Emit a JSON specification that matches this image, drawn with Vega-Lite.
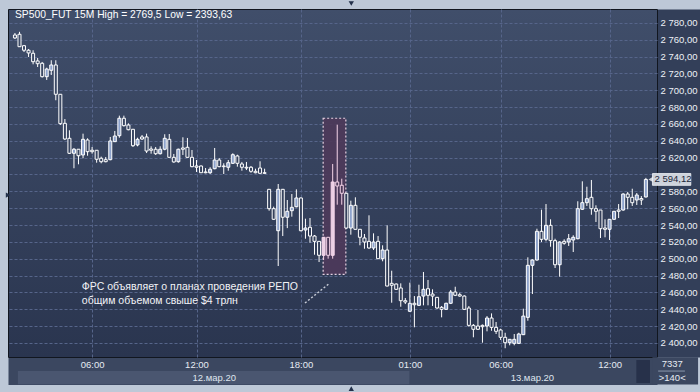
{
"$schema": "https://vega.github.io/schema/vega-lite/v6.json",
"width": 649, "height": 348,
"autosize": {"type": "none"},
"padding": {"left": 8, "top": 9, "right": 43, "bottom": 35},
"background": "#bdc8d7",
"config": {
  "view": {"fill": {"gradient": "linear", "x1": 0, "y1": 0, "x2": 0, "y2": 1, "stops": [{"offset": 0, "color": "#404e6a"}, {"offset": 1, "color": "#2a354f"}]}, "stroke": "#11161f", "strokeWidth": 1},
  "font": "Liberation Sans",
  "text": {"font": "Liberation Sans"}
},
"data": {"values": [
{"i":0,"o":2765.7,"h":2768.1,"l":2761.0,"c":2762.2},
{"i":1,"o":2766.6,"h":2769.5,"l":2751.5,"c":2751.8},
{"i":2,"o":2753.0,"h":2753.9,"l":2745.5,"c":2747.6},
{"i":3,"o":2747.6,"h":2749.1,"l":2739.6,"c":2744.4},
{"i":4,"o":2744.0,"h":2747.6,"l":2730.9,"c":2734.0},
{"i":5,"o":2734.9,"h":2738.4,"l":2727.7,"c":2731.6},
{"i":6,"o":2732.1,"h":2733.7,"l":2715.2,"c":2716.2},
{"i":7,"o":2716.2,"h":2726.9,"l":2712.3,"c":2725.3},
{"i":8,"o":2723.8,"h":2735.7,"l":2718.2,"c":2730.1},
{"i":9,"o":2730.1,"h":2735.7,"l":2688.2,"c":2695.3},
{"i":10,"o":2695.3,"h":2695.6,"l":2658.8,"c":2660.4},
{"i":11,"o":2660.8,"h":2665.9,"l":2641.0,"c":2642.2},
{"i":12,"o":2643.0,"h":2652.5,"l":2624.4,"c":2625.2},
{"i":13,"o":2625.2,"h":2631.5,"l":2607.4,"c":2630.0},
{"i":14,"o":2630.0,"h":2630.3,"l":2612.1,"c":2622.3},
{"i":15,"o":2623.2,"h":2648.5,"l":2619.3,"c":2641.8},
{"i":16,"o":2641.0,"h":2643.0,"l":2622.3,"c":2627.1},
{"i":17,"o":2628.8,"h":2632.7,"l":2624.7,"c":2627.1},
{"i":18,"o":2628.8,"h":2629.1,"l":2614.0,"c":2618.1},
{"i":19,"o":2619.3,"h":2621.2,"l":2613.3,"c":2615.2},
{"i":20,"o":2617.6,"h":2620.8,"l":2614.5,"c":2615.2},
{"i":21,"o":2617.6,"h":2644.6,"l":2616.9,"c":2639.8},
{"i":22,"o":2639.0,"h":2651.7,"l":2638.6,"c":2645.7},
{"i":23,"o":2646.1,"h":2669.9,"l":2643.7,"c":2666.8},
{"i":24,"o":2666.8,"h":2669.9,"l":2657.0,"c":2658.0},
{"i":25,"o":2658.8,"h":2660.8,"l":2652.5,"c":2653.2},
{"i":26,"o":2653.7,"h":2654.1,"l":2632.7,"c":2634.2},
{"i":27,"o":2635.1,"h":2643.7,"l":2633.5,"c":2641.8},
{"i":28,"o":2644.6,"h":2646.9,"l":2641.0,"c":2642.2},
{"i":29,"o":2644.6,"h":2648.5,"l":2625.5,"c":2627.9},
{"i":30,"o":2630.3,"h":2633.5,"l":2624.7,"c":2628.8},
{"i":31,"o":2630.0,"h":2632.7,"l":2623.2,"c":2624.7},
{"i":32,"o":2624.7,"h":2633.5,"l":2623.8,"c":2630.0},
{"i":33,"o":2630.0,"h":2647.8,"l":2628.8,"c":2643.0},
{"i":34,"o":2641.8,"h":2648.1,"l":2620.2,"c":2620.4},
{"i":35,"o":2620.4,"h":2624.4,"l":2614.0,"c":2614.9},
{"i":36,"o":2615.2,"h":2630.7,"l":2614.0,"c":2630.0},
{"i":37,"o":2631.5,"h":2644.2,"l":2623.2,"c":2630.0},
{"i":38,"o":2632.3,"h":2643.4,"l":2620.2,"c":2620.4},
{"i":39,"o":2620.4,"h":2629.1,"l":2608.6,"c":2609.3},
{"i":40,"o":2610.1,"h":2617.2,"l":2603.0,"c":2608.6},
{"i":41,"o":2610.1,"h":2610.7,"l":2601.8,"c":2602.1},
{"i":42,"o":2603.0,"h":2607.7,"l":2601.4,"c":2602.1},
{"i":43,"o":2602.1,"h":2608.6,"l":2600.6,"c":2606.2},
{"i":44,"o":2606.9,"h":2631.5,"l":2606.2,"c":2617.2},
{"i":45,"o":2617.2,"h":2619.6,"l":2608.6,"c":2609.3},
{"i":46,"o":2610.1,"h":2613.3,"l":2600.6,"c":2609.3},
{"i":47,"o":2608.6,"h":2617.2,"l":2604.5,"c":2614.0},
{"i":48,"o":2613.3,"h":2625.2,"l":2612.5,"c":2623.5},
{"i":49,"o":2622.0,"h":2623.5,"l":2609.3,"c":2613.3},
{"i":50,"o":2612.5,"h":2614.9,"l":2604.5,"c":2608.6},
{"i":51,"o":2608.6,"h":2614.9,"l":2605.3,"c":2607.7},
{"i":52,"o":2608.6,"h":2610.1,"l":2602.1,"c":2603.8},
{"i":53,"o":2603.8,"h":2606.9,"l":2601.4,"c":2602.1},
{"i":54,"o":2607.7,"h":2615.7,"l":2601.2,"c":2601.4},
{"i":55,"o":2602.1,"h":2606.9,"l":2601.2,"c":2601.4},
{"i":56,"o":2582.4,"h":2582.4,"l":2557.0,"c":2559.4},
{"i":57,"o":2559.4,"h":2561.8,"l":2546.0,"c":2546.8},
{"i":58,"o":2533.2,"h":2588.7,"l":2491.3,"c":2582.4},
{"i":59,"o":2582.4,"h":2582.8,"l":2526.9,"c":2549.2},
{"i":60,"o":2549.2,"h":2569.7,"l":2536.3,"c":2556.3},
{"i":61,"o":2557.0,"h":2576.8,"l":2549.9,"c":2561.0},
{"i":62,"o":2561.7,"h":2582.4,"l":2561.0,"c":2572.1},
{"i":63,"o":2572.1,"h":2572.7,"l":2532.5,"c":2533.2},
{"i":64,"o":2534.1,"h":2547.5,"l":2523.7,"c":2536.4},
{"i":65,"o":2537.3,"h":2548.3,"l":2519.0,"c":2526.9},
{"i":66,"o":2526.9,"h":2528.1,"l":2504.7,"c":2520.6},
{"i":67,"o":2520.6,"h":2521.0,"l":2496.0,"c":2504.0},
{"i":68,"o":2504.0,"h":2525.7,"l":2498.4,"c":2525.4},
{"i":69,"o":2525.4,"h":2525.7,"l":2500.0,"c":2504.0},
{"i":70,"o":2504.0,"h":2612.5,"l":2500.0,"c":2591.1},
{"i":71,"o":2591.1,"h":2659.2,"l":2564.1,"c":2586.3},
{"i":72,"o":2587.2,"h":2595.0,"l":2564.1,"c":2577.7},
{"i":73,"o":2577.7,"h":2578.0,"l":2535.6,"c":2536.4},
{"i":74,"o":2536.4,"h":2568.9,"l":2528.5,"c":2563.4},
{"i":75,"o":2563.4,"h":2572.9,"l":2534.7,"c":2534.9},
{"i":76,"o":2534.9,"h":2535.3,"l":2515.9,"c":2525.4},
{"i":77,"o":2524.6,"h":2529.3,"l":2511.8,"c":2519.8},
{"i":78,"o":2520.6,"h":2551.5,"l":2511.8,"c":2512.7},
{"i":79,"o":2512.7,"h":2530.1,"l":2510.3,"c":2519.8},
{"i":80,"o":2520.6,"h":2526.9,"l":2499.6,"c":2500.0},
{"i":81,"o":2500.0,"h":2515.9,"l":2496.9,"c":2510.3},
{"i":82,"o":2510.3,"h":2539.6,"l":2467.2,"c":2467.5},
{"i":83,"o":2470.7,"h":2485.7,"l":2447.7,"c":2468.4},
{"i":84,"o":2469.9,"h":2470.5,"l":2462.8,"c":2463.6},
{"i":85,"o":2465.2,"h":2470.7,"l":2442.9,"c":2450.1},
{"i":86,"o":2450.1,"h":2453.3,"l":2446.1,"c":2448.5},
{"i":87,"o":2437.5,"h":2471.5,"l":2436.6,"c":2447.0},
{"i":88,"o":2447.0,"h":2455.6,"l":2418.5,"c":2445.3},
{"i":89,"o":2444.6,"h":2469.1,"l":2443.8,"c":2454.8},
{"i":90,"o":2455.6,"h":2484.2,"l":2444.6,"c":2463.6},
{"i":91,"o":2464.3,"h":2474.7,"l":2444.6,"c":2456.5},
{"i":92,"o":2458.0,"h":2463.6,"l":2443.8,"c":2455.6},
{"i":93,"o":2454.1,"h":2454.5,"l":2440.6,"c":2441.4},
{"i":94,"o":2442.2,"h":2443.8,"l":2430.3,"c":2439.8},
{"i":95,"o":2439.8,"h":2447.7,"l":2439.4,"c":2447.0},
{"i":96,"o":2447.0,"h":2462.8,"l":2446.1,"c":2460.4},
{"i":97,"o":2460.4,"h":2466.7,"l":2455.6,"c":2456.5},
{"i":98,"o":2457.2,"h":2459.6,"l":2454.8,"c":2455.6},
{"i":99,"o":2455.6,"h":2456.5,"l":2439.0,"c":2439.8},
{"i":100,"o":2441.4,"h":2443.8,"l":2419.2,"c":2420.8},
{"i":101,"o":2420.8,"h":2422.4,"l":2406.6,"c":2416.1},
{"i":102,"o":2420.0,"h":2439.0,"l":2415.3,"c":2416.1},
{"i":103,"o":2420.8,"h":2421.8,"l":2400.2,"c":2419.2},
{"i":104,"o":2420.0,"h":2431.8,"l":2413.7,"c":2429.5},
{"i":105,"o":2429.5,"h":2435.0,"l":2414.4,"c":2418.4},
{"i":106,"o":2418.4,"h":2424.8,"l":2410.5,"c":2413.7},
{"i":107,"o":2415.3,"h":2416.8,"l":2403.4,"c":2406.6},
{"i":108,"o":2406.6,"h":2412.0,"l":2393.6,"c":2400.2},
{"i":109,"o":2400.2,"h":2404.6,"l":2397.1,"c":2404.2},
{"i":110,"o":2399.4,"h":2410.5,"l":2397.1,"c":2404.2},
{"i":111,"o":2399.4,"h":2412.0,"l":2398.6,"c":2410.5},
{"i":112,"o":2409.7,"h":2440.6,"l":2409.3,"c":2431.8},
{"i":113,"o":2430.3,"h":2501.6,"l":2426.3,"c":2492.1},
{"i":114,"o":2492.1,"h":2499.3,"l":2458.0,"c":2498.4},
{"i":115,"o":2498.4,"h":2535.6,"l":2497.6,"c":2532.5},
{"i":116,"o":2532.5,"h":2558.2,"l":2519.8,"c":2523.0},
{"i":117,"o":2523.0,"h":2564.9,"l":2520.6,"c":2539.6},
{"i":118,"o":2539.6,"h":2546.8,"l":2514.2,"c":2521.4},
{"i":119,"o":2521.4,"h":2523.7,"l":2488.9,"c":2492.8},
{"i":120,"o":2492.8,"h":2520.6,"l":2478.6,"c":2519.8},
{"i":121,"o":2520.6,"h":2523.0,"l":2516.6,"c":2518.3},
{"i":122,"o":2519.8,"h":2529.3,"l":2515.1,"c":2523.7},
{"i":123,"o":2522.2,"h":2527.8,"l":2507.9,"c":2525.4},
{"i":124,"o":2523.7,"h":2568.2,"l":2523.0,"c":2559.4},
{"i":125,"o":2558.7,"h":2591.9,"l":2557.8,"c":2566.5},
{"i":126,"o":2566.5,"h":2585.5,"l":2562.6,"c":2571.3},
{"i":127,"o":2572.9,"h":2593.5,"l":2552.2,"c":2559.4},
{"i":128,"o":2559.4,"h":2563.4,"l":2543.6,"c":2556.3},
{"i":129,"o":2557.8,"h":2557.8,"l":2524.6,"c":2535.6},
{"i":130,"o":2536.4,"h":2546.8,"l":2525.4,"c":2534.9},
{"i":131,"o":2534.9,"h":2547.1,"l":2522.2,"c":2546.8},
{"i":132,"o":2546.8,"h":2556.6,"l":2546.0,"c":2556.3},
{"i":133,"o":2557.8,"h":2564.9,"l":2548.3,"c":2556.3},
{"i":134,"o":2557.8,"h":2577.7,"l":2557.0,"c":2576.8},
{"i":135,"o":2576.8,"h":2579.2,"l":2558.7,"c":2572.9},
{"i":136,"o":2572.9,"h":2583.1,"l":2562.6,"c":2566.5},
{"i":137,"o":2569.7,"h":2578.0,"l":2563.8,"c":2575.6},
{"i":138,"o":2571.5,"h":2574.4,"l":2563.8,"c":2569.7},
{"i":139,"o":2573.3,"h":2596.0,"l":2572.7,"c":2594.12}
]},
"layer": [
{
"layer": [
{
  "data": {"values": [{}]},
  "mark": {"type": "rect", "fill": "#4d3a5a", "fillOpacity": 0.92, "stroke": "#e6d2e2", "strokeDash": [2, 2], "strokeWidth": 1.2},
  "encoding": {
    "x": {"datum": 67.9, "type": "quantitative",
      "scale": {"domain": [-0.43, 140.35], "nice": false, "zero": false},
      "axis": {"title": null, "orient": "bottom", "values": [17, 40, 63, 87, 107, 131], "tickCount": 40,
        "grid": true, "gridColor": "#56658a", "gridDash": [3, 2], "gridWidth": 1,
        "labels": false, "ticks": false, "tickSize": 0,
        "domain": true, "domainWidth": 27, "domainColor": "#3b4760", "offset": 14}},
    "x2": {"datum": 72.9},
    "y": {"datum": 2666.8, "type": "quantitative",
      "scale": {"domain": [2383.2, 2796.6], "nice": false, "zero": false},
      "axis": {"title": null, "orient": "right", "values": [2400, 2420, 2440, 2460, 2480, 2500, 2520, 2540, 2560, 2580, 2600, 2620, 2640, 2660, 2680, 2700, 2720, 2740, 2760, 2780], "tickCount": 40,
        "grid": true, "gridColor": "#56658a", "gridDash": [3, 2], "gridWidth": 1,
        "labels": false, "ticks": false, "tickSize": 0,
        "domain": true, "domainWidth": 43, "domainColor": "#333f59", "offset": 22}},
    "y2": {"datum": 2481.4}
  }
},
{
  "mark": {"type": "rule", "strokeWidth": 1},
  "encoding": {
    "x": {"field": "i", "type": "quantitative"},
    "y": {"field": "l", "type": "quantitative"},
    "y2": {"field": "h"},
    "color": {"condition": {"test": "datum.i >= 68 && datum.i <= 72", "value": "#f4d4e8"}, "value": "#ffffff"}
  }
},
{
  "mark": {"type": "bar", "size": 3, "strokeWidth": 1, "orient": "vertical"},
  "encoding": {
    "x": {"field": "i", "type": "quantitative"},
    "y": {"field": "o", "type": "quantitative"},
    "y2": {"field": "c"},
    "fill": {"condition": [
        {"test": "datum.i >= 68 && datum.i <= 72 && datum.c < datum.o", "value": "#4b3a58"},
        {"test": "datum.i >= 68 && datum.i <= 72", "value": "#ead0e4"},
        {"test": "datum.c >= datum.o", "value": "#8ea3cc"}],
      "field": "o", "type": "quantitative", "legend": null,
      "scale": {"domain": [2383.2, 2796.6], "range": ["#2a354f", "#404e6a"]}},
    "stroke": {"condition": {"test": "datum.i >= 68 && datum.i <= 72", "value": "#f6d6ea"}, "value": "#ffffff"}
  }
},
{
  "data": {"values": [{}]},
  "mark": {"type": "rule", "stroke": "#c9cdd8", "strokeWidth": 1.5, "strokeDash": [2, 2]},
  "encoding": {"x": {"datum": 63.9}, "x2": {"datum": 69.1}, "y": {"datum": 2447.3}, "y2": {"datum": 2469.9}}
},
{
  "data": {"values": [{}]},
  "mark": {"type": "text", "text": ["ФРС объявляет о планах проведения РЕПО", "общим объемом свыше $4 трлн"], "align": "left", "baseline": "top", "fontSize": 10.5, "lineHeight": 14, "color": "#f2f3f7", "font": "Liberation Sans"},
  "encoding": {"x": {"datum": 14.74}, "y": {"datum": 2472.3}}
},
{
  "data": {"values": [{}]},
  "mark": {"type": "text", "text": "SP500_FUT 15M High = 2769,5 Low = 2393,63", "align": "left", "baseline": "middle", "fontSize": 10.3, "color": "#ffffff", "font": "Liberation Sans"},
  "encoding": {"x": {"datum": 0.0}, "y": {"datum": 2789.5}}
},
{
  "data": {"values": [{}]},
  "mark": {"type": "rect", "fill": "#4a5670"},
  "encoding": {"x": {"datum": 0.65}, "x2": {"datum": 86.9}, "y": {"datum": 2366.5}, "y2": {"datum": 2350.9}}
},
{
  "data": {"values": [{"d": "12.мар.20", "p": 43.9}, {"d": "13.мар.20", "p": 114.0}]},
  "mark": {"type": "text", "align": "center", "baseline": "middle", "fontSize": 9.5, "color": "#dfe5ee", "font": "Liberation Sans"},
  "encoding": {"x": {"field": "p", "type": "quantitative"}, "y": {"datum": 2358.8}, "text": {"field": "d"}}
},
{
  "data": {"values": [{}]},
  "mark": {"type": "rect", "fill": "#27314a"},
  "encoding": {"x": {"datum": 136.9}, "x2": {"datum": 139.9}, "y": {"datum": 2379.6}, "y2": {"datum": 2352.3}}
},
{
  "data": {"values": [{}]},
  "mark": {"type": "rect", "fill": "#3b4760"},
  "encoding": {"x": {"datum": 140.45}, "x2": {"datum": 150.5}, "y": {"datum": 2382.8}, "y2": {"datum": 2350.5}}
},
{
  "data": {"values": [{}]},
  "mark": {"type": "rule", "stroke": "#8a97ad", "strokeWidth": 1},
  "encoding": {"x": {"datum": 141.7}, "x2": {"datum": 147.6}, "y": {"datum": 2366.5}}
},
{
  "data": {"values": [{"t": "7337", "p": 2374.9}, {"t": ">140<", "p": 2358.8}]},
  "mark": {"type": "text", "align": "center", "baseline": "middle", "fontSize": 9.5, "color": "#e6ebf3", "font": "Liberation Sans"},
  "encoding": {"x": {"datum": 144.8}, "y": {"field": "p", "type": "quantitative"}, "text": {"field": "t"}}
},
{
  "data": {"values": [{"s": "triangle-down", "x": 74.1, "p": 2803.2}, {"s": "triangle-up", "x": 74.1, "p": 2345.6}, {"s": "triangle-right", "x": -1.51, "p": 2575.6}]},
  "mark": {"type": "point", "filled": true, "size": 28, "fill": "#22304a", "opacity": 1},
  "encoding": {"x": {"field": "x", "type": "quantitative"}, "y": {"field": "p", "type": "quantitative"}, "shape": {"field": "s", "type": "nominal", "scale": null, "legend": null}}
}
]
},
{
  "data": {"values": [{}]},
  "layer": [
    {
      "mark": {"type": "point", "opacity": 0},
      "encoding": {
        "x": {"datum": 70, "type": "quantitative",
          "scale": {"domain": [-0.43, 140.35], "nice": false, "zero": false},
          "axis": {"title": null, "orient": "bottom", "values": [17, 40, 63, 87, 107, 131], "tickCount": 40,
            "labelExpr": "datum.value == 17 ? '06:00' : datum.value == 40 ? '12:00' : datum.value == 63 ? '18:00' : datum.value == 87 ? '01:00' : datum.value == 107 ? '06:00' : '12:00'",
            "grid": false, "domain": false, "ticks": false, "tickSize": 0,
            "labelPadding": 7.5, "labelBaseline": "middle", "labelFont": "Liberation Sans", "labelFontSize": 9.5, "labelColor": "#e6ebf3",
            "labelFlush": false, "labelOverlap": false}},
        "y": {"datum": 2500, "type": "quantitative",
          "scale": {"domain": [2383.2, 2796.6], "nice": false, "zero": false},
          "axis": {"title": null, "orient": "right", "values": [2400, 2420, 2440, 2460, 2480, 2500, 2520, 2540, 2560, 2580, 2600, 2620, 2640, 2660, 2680, 2700, 2720, 2740, 2760, 2780], "tickCount": 40,
            "labelExpr": "datum.value == 2600 ? '' : '2 ' + (datum.value - 2000) + ',00'",
            "grid": false, "domain": false, "ticks": false, "tickSize": 0,
            "labelPadding": 3, "labelAlign": "left", "labelBaseline": "middle", "labelFont": "Liberation Sans", "labelFontSize": 9.5, "labelColor": "#eef1f6",
            "labelFlush": false, "labelOverlap": false}}
      }
    },
    {
      "mark": {"type": "point", "shape": "triangle-left", "size": 45, "filled": true, "fill": "#cdd2db", "opacity": 1},
      "encoding": {"x": {"datum": 140.2}, "y": {"datum": 2594.12}}
    },
    {
      "mark": {"type": "rect", "fill": "#cdd2db", "stroke": "#f4f6fa", "strokeWidth": 0.8},
      "encoding": {"x": {"datum": 140.45}, "x2": {"datum": 148.9}, "y": {"datum": 2601.1}, "y2": {"datum": 2587.1}}
    },
    {
      "mark": {"type": "text", "text": "2 594,12", "align": "left", "baseline": "middle", "fontSize": 9.5, "color": "#1b2639", "font": "Liberation Sans"},
      "encoding": {"x": {"datum": 140.9}, "y": {"datum": 2594.12}}
    }
  ]
}
],
"resolve": {"axis": {"x": "independent", "y": "independent"}}
}
